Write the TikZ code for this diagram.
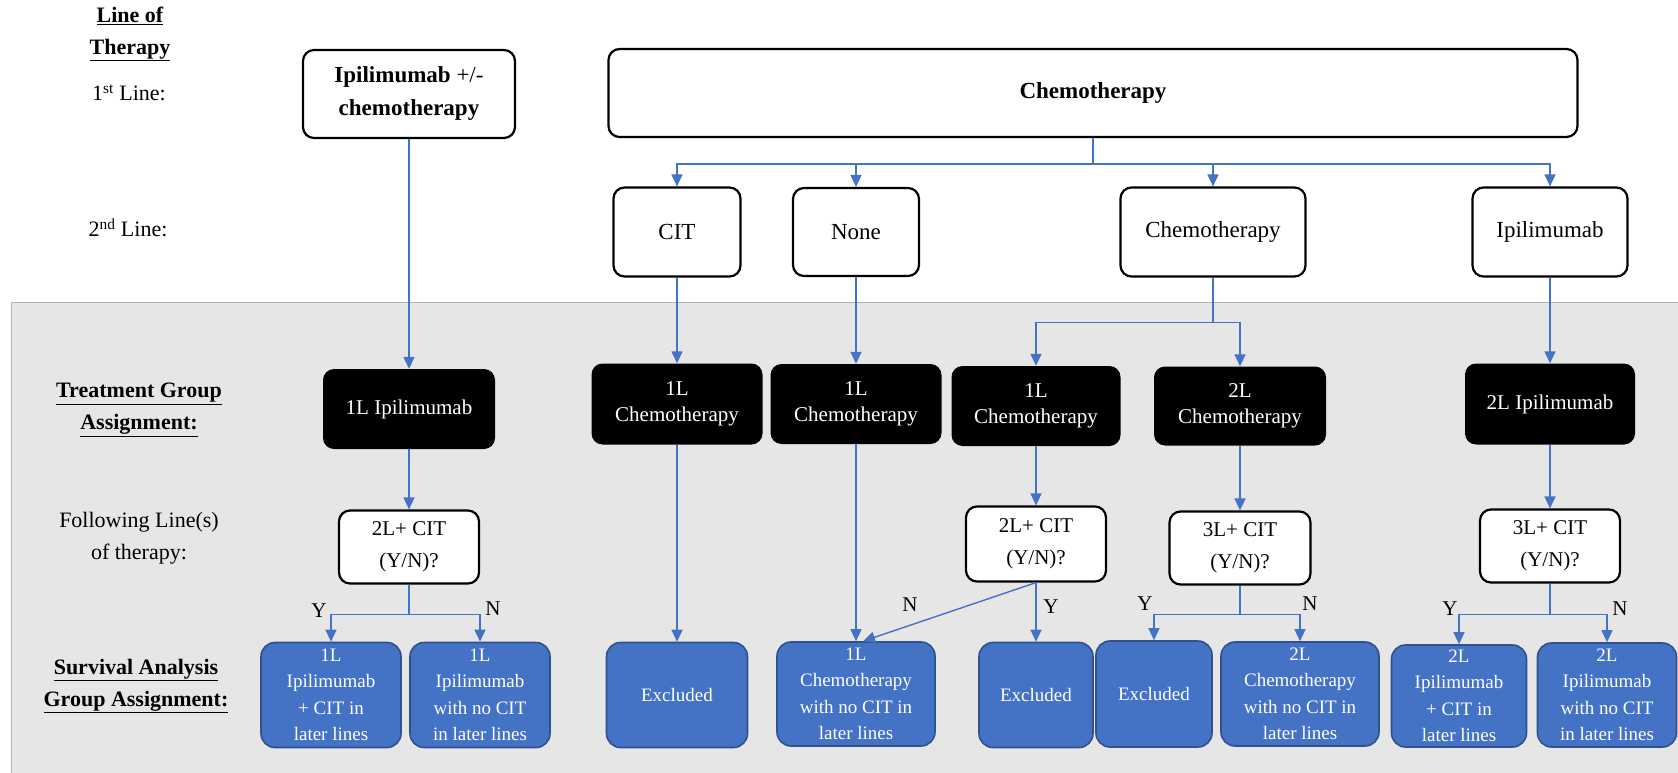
\documentclass[tikz,border=0pt]{standalone}
\usepackage{fontspec}
\setmainfont{Liberation Serif}
\usetikzlibrary{arrows.meta,calc}
\definecolor{bgc}{HTML}{E7E6E6}
\definecolor{bgedge}{HTML}{B4B4B4}
\definecolor{bluefill}{HTML}{4472C4}
\definecolor{blueedge}{HTML}{2F528F}
\definecolor{linec}{HTML}{4472C4}
\begin{document}
\begin{tikzpicture}[x=1pt,y=-1pt,
 wbox/.style={draw=black,line width=2.2pt,fill=white,rounded corners=11pt,align=center,inner sep=0pt},
 topbox/.style={wbox,font=\fontsize{23}{33}\selectfont},
 secbox/.style={wbox,font=\fontsize{23}{28}\selectfont},
 kbox/.style={fill=black,text=white,rounded corners=11pt,align=center,inner sep=0pt,font=\fontsize{21}{25.5}\selectfont},
 qbox/.style={wbox,font=\fontsize{21}{32}\selectfont},
 sbox/.style={draw=blueedge,line width=1.6pt,fill=bluefill,text=white,rounded corners=14pt,align=center,inner sep=0pt,font=\fontsize{19}{26.5}\selectfont},
 arr/.style={draw=linec,line width=1.4pt,-{Triangle[width=11pt,length=12pt]}},
 lnk/.style={draw=linec,line width=1.4pt},
 side/.style={align=center,inner sep=0pt,font=\fontsize{22}{32}\selectfont},
 yn/.style={font=\fontsize{21}{25}\selectfont,inner sep=0pt},
]
\useasboundingbox (0,0) rectangle (1678,773);
% background panel
\fill[bgc] (11,302) rectangle (1678,773);
\draw[bgedge,line width=1pt] (11,773) -- (11,302) -- (1678,302);

% side labels
\node[side] (lLine) at (130,34) {\textbf{\underline{Line of}}\\\textbf{\underline{Therapy}}};
\node[side] (lFirst) at (129,93) {1\textsuperscript{st} Line:};
\node[side] (lSecond) at (128,228) {2\textsuperscript{nd} Line:};
\node[side] (lTreat) at (139,410) {\textbf{\underline{Treatment Group}}\\\textbf{\underline{Assignment:}}};
\node[side] (lFollow) at (139,538) {Following Line(s)\\of therapy:};
\node[side] (lSurv) at (136,686) {\textbf{\underline{Survival Analysis}}\\\textbf{\underline{Group Assignment:}}};

% first line
\node[topbox,minimum width=212,minimum height=88] (ipi1) at (409,94) {\textbf{Ipilimumab} +/-\\\textbf{chemotherapy}};
\node[topbox,minimum width=969,minimum height=88] (chemo1) at (1093,93) {\textbf{Chemotherapy}};

% second line
\node[secbox,minimum width=127,minimum height=89] (cit2) at (677,232) {CIT};
\node[secbox,minimum width=126,minimum height=88] (none2) at (856,232) {None};
\node[secbox,minimum width=185,minimum height=89] (chemo2) at (1213,232) {Chemotherapy};
\node[secbox,minimum width=155,minimum height=89] (ipi2) at (1550,232) {Ipilimumab};

% treatment group assignment
\node[kbox,minimum width=172,minimum height=80] (tIpi1) at (409,409) {1L Ipilimumab};
\node[kbox,minimum width=171,minimum height=81] (tChemoA) at (677,404) {1L\\Chemotherapy};
\node[kbox,minimum width=171,minimum height=80] (tChemoB) at (856,404) {1L\\Chemotherapy};
\node[kbox,minimum width=169,minimum height=80] (tChemoC) at (1036,406) {1L\\Chemotherapy};
\node[kbox,minimum width=172,minimum height=79] (tChemoD) at (1240,406) {2L\\Chemotherapy};
\node[kbox,minimum width=170,minimum height=81] (tIpi2) at (1550,404) {2L Ipilimumab};

% following lines questions
\node[qbox,minimum width=140,minimum height=73] (q1) at (409,547) {2L+ CIT\\(Y/N)?};
\node[qbox,minimum width=140,minimum height=75] (q2) at (1036,544) {2L+ CIT\\(Y/N)?};
\node[qbox,minimum width=141,minimum height=73] (q3) at (1240,548) {3L+ CIT\\(Y/N)?};
\node[qbox,minimum width=140,minimum height=73] (q4) at (1550,546) {3L+ CIT\\(Y/N)?};

% survival analysis groups
\node[sbox,minimum width=140,minimum height=105] (s1) at (331,695) {1L\\Ipilimumab\\+ CIT in\\later lines};
\node[sbox,minimum width=140,minimum height=105] (s2) at (480,695) {1L\\Ipilimumab\\with no CIT\\in later lines};
\node[sbox,minimum width=141,minimum height=105] (s3) at (677,695) {Excluded};
\node[sbox,minimum width=158,minimum height=104] (s4) at (856,694) {1L\\Chemotherapy\\with no CIT in\\later lines};
\node[sbox,minimum width=114,minimum height=105] (s5) at (1036,695) {Excluded};
\node[sbox,minimum width=116,minimum height=106] (s6) at (1154,694) {Excluded};
\node[sbox,minimum width=158,minimum height=104] (s7) at (1300,694) {2L\\Chemotherapy\\with no CIT in\\later lines};
\node[sbox,minimum width=135,minimum height=102] (s8) at (1459,696) {2L\\Ipilimumab\\+ CIT in\\later lines};
\node[sbox,minimum width=139,minimum height=104] (s9) at (1607,695) {2L\\Ipilimumab\\with no CIT\\in later lines};

% connectors: first to second line
\draw[arr] (ipi1.south) -- (ipi1.south |- tIpi1.north);
\draw[lnk] (chemo1.south) -- ++(0,26) coordinate (br1);
\draw[arr] (br1) -| (cit2.north);
\draw[arr] (br1) -| (none2.north);
\draw[arr] (br1) -| (chemo2.north);
\draw[arr] (br1) -| (ipi2.north);

% second line to treatment groups
\draw[arr] (cit2.south) -- (cit2.south |- tChemoA.north);
\draw[arr] (none2.south) -- (none2.south |- tChemoB.north);
\draw[lnk] (chemo2.south) -- ++(0,45) coordinate (br2);
\draw[arr] (br2) -| (tChemoC.north);
\draw[arr] (br2) -| (tChemoD.north);
\draw[arr] (ipi2.south) -- (ipi2.south |- tIpi2.north);

% treatment groups downwards
\draw[arr] (tIpi1.south) -- (tIpi1.south |- q1.north);
\draw[arr] (tChemoA.south) -- (tChemoA.south |- s3.north);
\draw[arr] (tChemoB.south) -- (tChemoB.south |- s4.north);
\draw[arr] (tChemoC.south) -- (tChemoC.south |- q2.north);
\draw[arr] (tChemoD.south) -- (tChemoD.south |- q3.north);
\draw[arr] (tIpi2.south) -- (tIpi2.south |- q4.north);

% question splits
\draw[lnk] (q1.south) -- ++(0,30) coordinate (br3);
\draw[arr] (br3) -| (s1.north);
\draw[arr] (br3) -| (s2.north);
\draw[arr] (q2.south) -- (q2.south |- s5.north);
\draw[arr] (q2.south) -- ($(s4.north)+(7,0)$);
\draw[lnk] (q3.south) -- ++(0,29) coordinate (br4);
\draw[arr] (br4) -| (s6.north);
\draw[arr] (br4) -| (s7.north);
\draw[lnk] (q4.south) -- ++(0,31) coordinate (br5);
\draw[arr] (br5) -| (s8.north);
\draw[arr] (br5) -| (s9.north);

% Y / N labels
\node[yn] (y1) at (319,611) {Y};
\node[yn] (n1) at (493,609) {N};
\node[yn] (n2) at (910,605) {N};
\node[yn] (y2) at (1051,607) {Y};
\node[yn] (y3) at (1145,604) {Y};
\node[yn] (n3) at (1310,604) {N};
\node[yn] (y4) at (1450,609) {Y};
\node[yn] (n4) at (1620,609) {N};
\end{tikzpicture}
\end{document}
